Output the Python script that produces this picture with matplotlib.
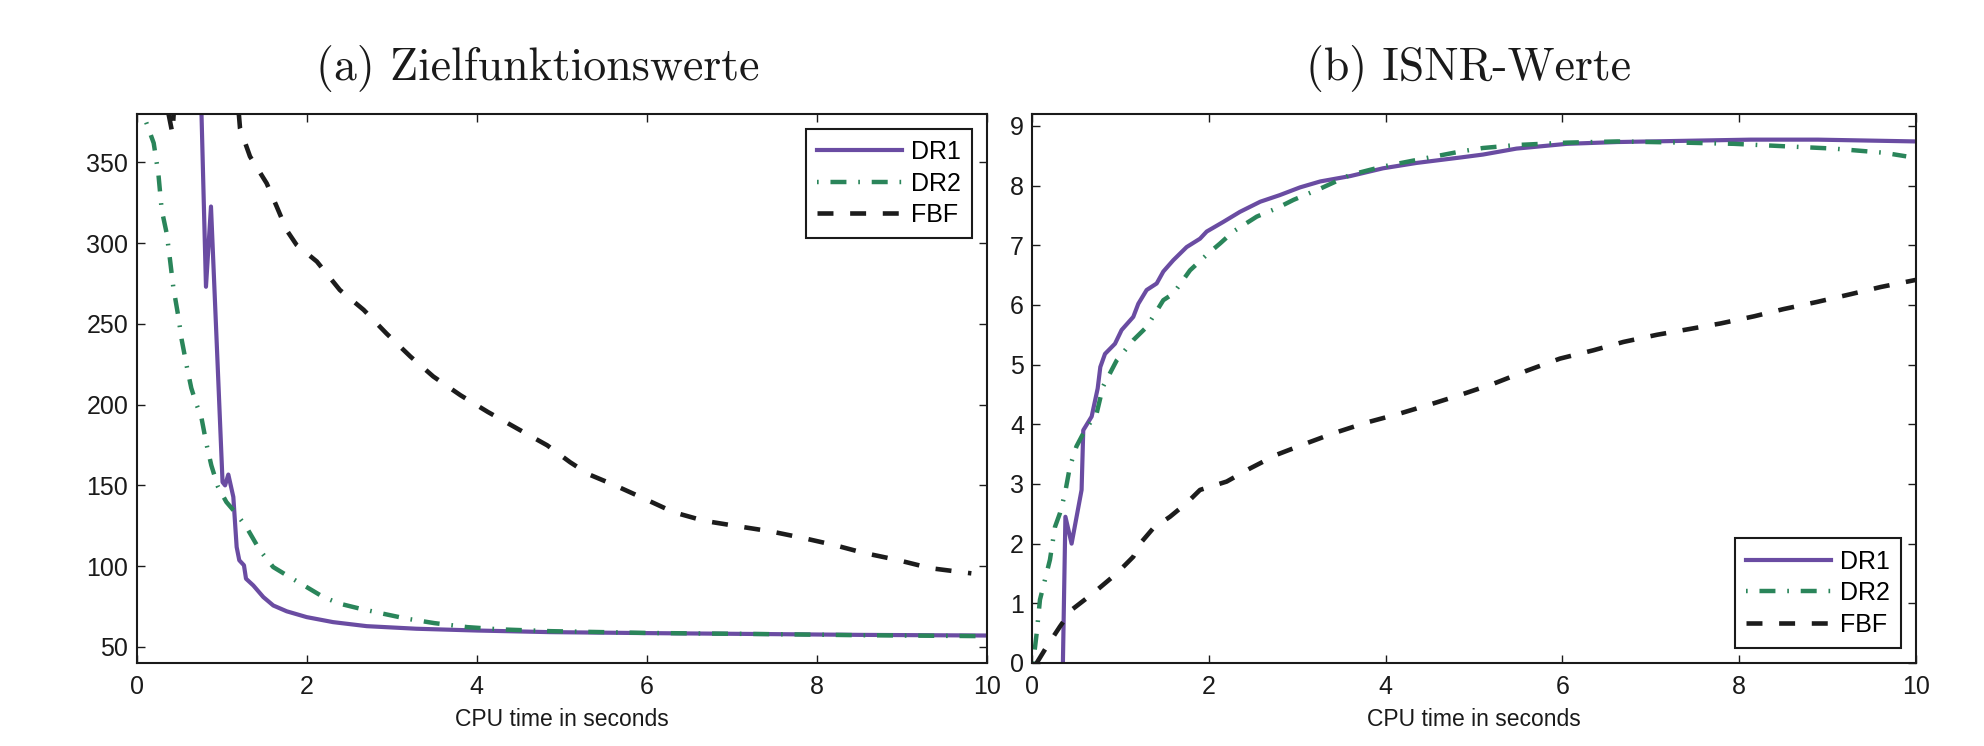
import matplotlib
matplotlib.use("Agg")
import matplotlib.pyplot as plt

plt.rcParams['font.family'] = ['Liberation Sans', 'DejaVu Sans']
plt.rcParams['lines.scale_dashes'] = False

# (a) objective values
obj_dr1_t = [0.76, 0.815, 0.874, 0.96, 1.01, 1.04, 1.078, 1.137, 1.176, 1.207, 1.262, 1.286,
             1.372, 1.49, 1.607, 1.765, 2.0, 2.31, 2.706, 3.29, 4.0, 4.86, 6.0, 7.4, 8.5, 10.0]
obj_dr1 = [385, 273, 322.7, 215, 152, 150, 156.7, 142.8, 111.8, 103.6, 100.5, 92.2,
           88, 80.8, 75.6, 72, 68.4, 65.3, 62.8, 61.2, 60.1, 59.1, 58.5, 57.9, 57.4, 57.0]

obj_dr2_t = [0.05, 0.09, 0.2, 0.255, 0.294, 0.353, 0.392, 0.43, 0.49, 0.53, 0.59, 0.642, 0.70,
             0.76, 0.82, 0.878, 0.957, 1.055, 1.173, 1.29, 1.45, 1.606, 1.8, 2.0, 2.197, 2.39,
             2.63, 2.9, 3.18, 3.5, 3.89, 4.28, 4.87, 6.0, 7.38, 8.5, 10.0]
obj_dr2 = [400, 378, 362, 343, 320.7, 306, 289.7, 273, 254.5, 240, 223.5, 210.3, 200.6,
           192.4, 175.8, 162.4, 149, 139.7, 132.4, 124.2, 109.7, 99.4, 93.2, 87, 80.8, 76.7,
           73.6, 70.5, 67.4, 64.7, 62.2, 60.8, 59.7, 58.6, 57.9, 57.2, 56.6]

obj_fbf_t = [0.30, 0.42, 0.46, 1.17, 1.216, 1.333, 1.53, 1.647, 1.765, 1.88, 2.12, 2.39, 2.67,
             2.94, 3.22, 3.49, 3.81, 4.13, 4.48, 4.83, 5.1, 5.32, 5.61, 5.97, 6.32, 6.68, 7.07,
             7.46, 7.85, 8.21, 8.56, 8.95, 9.34, 9.82]
obj_fbf = [400, 368, 400, 400, 371, 353.7, 337, 322.7, 308, 299, 288.6, 271, 258.7,
           244, 229.8, 217.4, 205.8, 195.5, 185.1, 174.8, 164.3, 156.8, 150.4, 141.8, 133.3, 128, 124.7,
           121.5, 117.3, 113, 108.1, 103.8, 98.7, 95.5]

# (b) ISNR values
isnr_dr1_t = [0.335, 0.375, 0.445, 0.558, 0.577, 0.672, 0.74, 0.77, 0.823, 0.936, 1.011, 1.143,
              1.2, 1.294, 1.408, 1.483, 1.596, 1.747, 1.898, 1.974, 2.16, 2.35, 2.58, 2.8, 3.03,
              3.26, 3.6, 3.97, 4.35, 4.84, 5.1, 5.48, 6.05, 6.62, 7.37, 8.13, 8.89, 10.0]
isnr_dr1 = [-1.0, 2.45, 2.0, 2.9, 3.9, 4.13, 4.6, 4.96, 5.18, 5.35, 5.58, 5.8,
            6.02, 6.25, 6.36, 6.56, 6.75, 6.97, 7.11, 7.23, 7.39, 7.56, 7.73, 7.84, 7.97,
            8.07, 8.16, 8.29, 8.38, 8.47, 8.52, 8.62, 8.70, 8.73, 8.75, 8.77, 8.77, 8.74]

isnr_dr2_t = [0.01, 0.05, 0.087, 0.143, 0.2, 0.257, 0.313, 0.37, 0.426, 0.5, 0.596, 0.728, 0.8,
              0.955, 1.143, 1.294, 1.483, 1.596, 1.785, 1.974, 2.125, 2.275, 2.54, 2.766, 2.955,
              3.26, 3.6, 3.97, 4.35, 4.84, 5.1, 5.48, 6.05, 6.62, 7.37, 7.94, 8.5, 9.07, 9.64, 9.89]
isnr_dr2 = [0, 0.5, 1.06, 1.39, 1.73, 2.28, 2.51, 2.84, 3.29, 3.63, 3.9, 4.18, 4.63,
            5.07, 5.41, 5.63, 6.08, 6.19, 6.58, 6.84, 7.03, 7.23, 7.48, 7.62, 7.76,
            7.95, 8.18, 8.32, 8.43, 8.57, 8.63, 8.68, 8.72, 8.74, 8.72, 8.70, 8.66, 8.62, 8.55, 8.49]

isnr_fbf_t = [0.05, 0.162, 0.313, 0.445, 0.69, 0.955, 1.143, 1.22, 1.37, 1.558, 1.747, 1.898,
              2.2, 2.464, 2.766, 3.1, 3.41, 3.785, 4.16, 4.54, 4.84, 5.22, 5.6, 5.97, 6.35,
              6.69, 7.07, 7.45, 7.79, 8.17, 8.5, 8.88, 9.26, 9.6, 10.0]
isnr_fbf = [0, 0.27, 0.61, 0.89, 1.17, 1.5, 1.78, 2.0, 2.26, 2.45, 2.68, 2.9,
            3.04, 3.26, 3.49, 3.68, 3.85, 4.03, 4.18, 4.35, 4.49, 4.68, 4.9, 5.1, 5.24,
            5.38, 5.5, 5.6, 5.69, 5.81, 5.93, 6.05, 6.18, 6.3, 6.42]

labels = ['DR1', 'DR2', 'FBF']
obj_yticks = [50, 100, 150, 200, 250, 300, 350]
isnr_yticks = list(range(10))
xticks = [0, 2, 4, 6, 8, 10]

purple = '#6a4ca2'
green = '#2a855a'
black = '#1c1c1c'
styles = [
    dict(color=purple, lw=3.0, ls='-'),
    dict(color=green, lw=3.2, ls=(0, (1.2, 8.5, 11.5, 8.5)), dash_capstyle='butt'),
    dict(color=black, lw=3.3, ls=(0, (11.5, 12)), dash_capstyle='butt'),
]

fig = plt.figure(figsize=(19.84, 7.46), dpi=100)
ax1 = fig.add_axes([0.0689, 0.1113, 0.4284, 0.7359])
ax2 = fig.add_axes([0.5203, 0.1113, 0.4454, 0.7359])

panels = [
    (ax1, [(obj_dr1_t, obj_dr1), (obj_dr2_t, obj_dr2), (obj_fbf_t, obj_fbf)],
     (40, 380), obj_yticks, 'upper right'),
    (ax2, [(isnr_dr1_t, isnr_dr1), (isnr_dr2_t, isnr_dr2), (isnr_fbf_t, isnr_fbf)],
     (0, 9.2), isnr_yticks, 'lower right'),
]

for ax, series, ylim, yticks, loc in panels:
    for (t, v), lab, st in zip(series, labels, styles):
        ax.plot(t, v, label=lab, **st)
    ax.set_xlim(0, 10)
    ax.set_ylim(*ylim)
    ax.set_xticks(xticks)
    ax.set_yticks(yticks)
    ax.tick_params(direction='in', top=True, right=True, length=6, width=1.0,
                   labelsize=18, colors='#1a1a1a')
    ax.tick_params(axis='x', pad=9)
    ax.tick_params(axis='y', pad=6)
    for sp in ax.spines.values():
        sp.set_linewidth(1.5)
        sp.set_color('#1a1a1a')
    ax.set_xlabel('CPU time in seconds', fontsize=16.5, labelpad=6, color='#1a1a1a')
    leg = ax.legend(loc=loc, fontsize=18, handlelength=3.4, handletextpad=0.35,
                    labelspacing=0.3, borderaxespad=0.6, borderpad=0.45,
                    fancybox=False, framealpha=1)
    leg.get_frame().set_edgecolor('#1a1a1a')
    leg.get_frame().set_linewidth(1.5)

fig.text(538 / 1984, 1 - 68 / 746, '(a) Zielfunktionswerte', family='cmr10',
         fontsize=33, ha='center', va='center', color='#1a1a1a')
fig.text(1469 / 1984, 1 - 68 / 746, '(b) ISNR-Werte', family='cmr10',
         fontsize=33, ha='center', va='center', color='#1a1a1a')

fig.savefig('out.png', dpi=100)
